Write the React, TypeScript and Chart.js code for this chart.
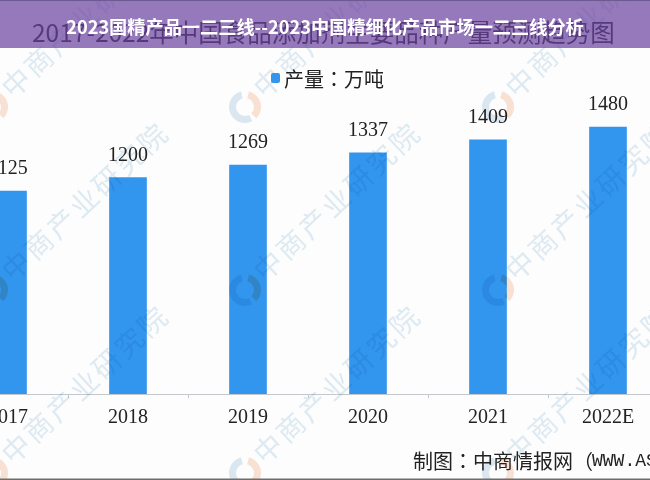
import React, { useEffect, useRef } from "react";
import { Chart, registerables } from "chart.js";

Chart.register(...registerables);

const categories = ["2017", "2018", "2019", "2020", "2021", "2022E"];
const values = [1125, 1200, 1269, 1337, 1409, 1480];
const legendText = "产量：万吨";
const headline = "2023国精产品一二三线--2023中国精细化产品市场一二三线分析";
const bgTitle = "2017-2022年中国食品添加剂主要品种产量预测趋势图";
const sourceCn = "制图：中商情报网（";
const sourceEn = "WWW.ASKCI.COM）";
const watermark = "中商产业研究院";

const CJK = '"Noto Sans CJK TC", "Noto Sans CJK SC", sans-serif';
const SERIF = '"Liberation Serif", serif';
const SHIFT = 52;

const overlay = {
  id: "overlay",
  beforeDraw(c: any) {
    const g = c.ctx;
    g.save();
    g.fillStyle = "#fdfdfe";
    g.fillRect(0, 0, c.width, c.height);
    g.restore();
  },
  afterDatasetsDraw(c: any) {
    const g = c.ctx;
    g.save();
    g.translate(SHIFT, 0);
    g.globalCompositeOperation = "multiply";
    for (const x of [85, 337, 589]) {
      for (const y of [18, 201, 384]) {
        g.save();
        g.translate(x, y);
        g.rotate((-43 * Math.PI) / 180);
        g.fillStyle = "#e0ecf3";
        g.font = `28px ${CJK}`;
        g.letterSpacing = "3px";
        g.textAlign = "center";
        g.textBaseline = "middle";
        g.fillText(watermark, 0, 0);
        g.restore();
      }
    }
    for (const x of [-8, 245, 498]) {
      for (const y of [107, 290, 473]) {
        g.lineWidth = 7;
        g.strokeStyle = "#dce9f1";
        g.beginPath();
        g.arc(x, y, 12.5, Math.PI * 0.35, Math.PI * 1.42);
        g.stroke();
        g.strokeStyle = "#fae2d4";
        g.beginPath();
        g.arc(x, y, 12.5, -Math.PI * 0.42, Math.PI * 0.25);
        g.stroke();
      }
    }
    g.restore();
  },
  afterDraw(c: any) {
    const g = c.ctx;
    g.save();
    g.translate(SHIFT, 0);
    g.fillStyle = "#2a2a2a";
    g.font = `24.5px ${CJK}`;
    g.textAlign = "left";
    g.textBaseline = "middle";
    g.fillText(bgTitle, 32, 33);
    g.fillStyle = "rgba(105,64,158,0.7)";
    g.fillRect(0, 0, 650, 48);
    g.fillStyle = "#6d5a92";
    g.fillRect(0, 0, 650, 1);
    g.fillStyle = "#fff";
    g.font = `bold 18.2px "Noto Sans CJK SC", sans-serif`;
    g.textAlign = "center";
    g.fillText(headline, 325, 27);

    g.fillStyle = "#3296ee";
    g.beginPath();
    g.roundRect(271, 73, 9, 10, 2);
    g.fill();

    g.fillStyle = "#222";
    g.textAlign = "left";
    g.font = `20px ${CJK}`;
    g.fillText(legendText, 284, 79);
    g.fillText(sourceCn, 413, 461);
    const w = g.measureText(sourceCn).width;
    g.font = `18px "Liberation Mono", monospace`;
    g.fillText(sourceEn, 413 + w - 1, 461);

    g.fillStyle = "#6e6e6e";
    g.fillRect(0, 478.5, 650, 1.5);
    g.restore();
  },
};

const valueLabels = {
  id: "valueLabels",
  afterDatasetsDraw(c: any) {
    const g = c.ctx;
    const meta = c.getDatasetMeta(0);
    g.save();
    g.fillStyle = "#222";
    g.font = `20px ${SERIF}`;
    g.textAlign = "center";
    meta.data.forEach((el: any, i: number) => {
      g.fillText(String(values[i]), el.x, el.y - 17);
    });
    g.restore();
  },
};

export default function App() {
  const ref = useRef<HTMLCanvasElement>(null);
  useEffect(() => {
    const chart = new Chart(ref.current!, {
      type: "bar",
      data: {
        labels: categories,
        datasets: [{ label: "产量", data: values, backgroundColor: "#3296ee", barThickness: 37 }],
      },
      options: {
        responsive: false,
        animation: false,
        devicePixelRatio: 1,
        layout: { padding: 0 },
        plugins: { legend: { display: false }, title: { display: false }, tooltip: { enabled: false } },
        scales: {
          x: {
            afterFit(scale: any) {
              scale.height = 86;
            },
            offset: true,
            grid: { offset: true, drawOnChartArea: false, drawTicks: true, tickLength: 4, color: "#c4c8cc" },
            border: { color: "#c4c8cc" },
            ticks: { color: "#222", font: { family: SERIF, size: 20 }, padding: 8, maxRotation: 0, autoSkip: false },
          },
          y: { display: false, min: 0, max: 2184 },
        },
      },
      plugins: [overlay, valueLabels],
    });
    return () => chart.destroy();
  }, []);
  return (
    <div style={{ position: "fixed", left: 0, top: 0, width: 650, height: 480, overflow: "hidden" }}>
      <canvas
        ref={ref}
        width={720}
        height={480}
        style={{ position: "absolute", left: -SHIFT, top: 0, width: 720, height: 480, display: "block" }}
      />
    </div>
  );
}
